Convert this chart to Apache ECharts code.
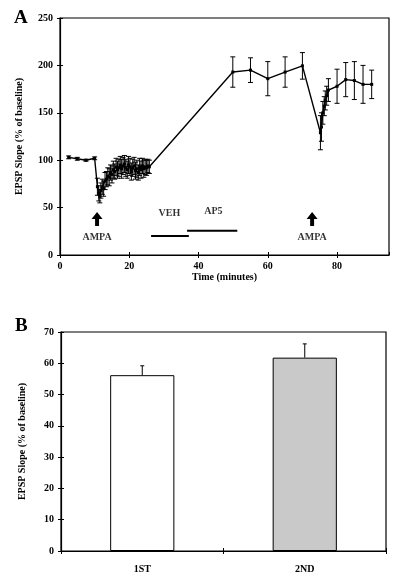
<!DOCTYPE html>
<html><head><meta charset="utf-8">
<script src="https://cdn.jsdelivr.net/npm/echarts@6/dist/echarts.min.js"></script>
<style>html,body{margin:0;padding:0;background:#fff}#c{width:400px;height:582px}</style>
</head><body><div id="c"></div>
<script>
// ---- Panel A data ----
const timeA = [2.5, 5, 7.5, 10,
  10.8, 11.2, 11.5, 11.8, 12.2, 12.6, 13.0, 13.4, 13.8, 14.2, 14.6, 15.0, 15.4, 15.8, 16.2, 16.6,
  17.0, 17.4, 17.8, 18.2, 18.6, 19.0, 19.4, 19.8, 20.2, 20.6, 21.0, 21.4, 21.8, 22.2, 22.6, 23.0,
  23.4, 23.8, 24.2, 24.6, 25.0, 25.4, 25.8,
  49.9, 55, 60, 65, 70,
  75.2, 75.5, 75.9, 76.3, 76.6, 77.0, 77.5, 80, 82.5, 85, 87.5, 90];
const valueA = [103, 101.5, 100, 102,
  72, 65, 62, 68, 72, 70, 78, 80, 83, 82, 87, 85, 90, 88, 93, 90,
  92, 95, 91, 94, 96, 92, 90, 95, 93, 88, 92, 94, 89, 91, 87, 93,
  90, 94, 91, 93, 92, 94, 93,
  193, 195, 186, 193, 199.5,
  129, 135, 150, 157, 163, 168, 174, 178, 185, 184, 180, 180];
const errA = [1.5, 1.5, 1, 1.5,
  9, 8, 7, 8, 8, 8, 9, 8, 9, 9, 8, 9, 9, 8, 9, 9,
  9, 9, 10, 9, 9, 9, 9, 9, 9, 9, 9, 9, 9, 9, 8, 9,
  9, 8, 9, 8, 8, 7, 7,
  16, 13, 18, 16, 14,
  18, 15, 12, 10, 10, 10, 12, 18, 18, 20, 20, 15];
const ampaTimes = [10.7, 72.8];
const arrowLevel = 38;
const vehPeriod = [26.3, 37.2];
const vehLevel = 20;
const ap5Period = [36.7, 51.2];
const ap5Level = 25.5;
const textLabelsA = [['AMPA', 10.7, 19], ['AMPA', 72.8, 18.5], ['VEH', 31.6, 44], ['AP5', 44.3, 45.5]];

// ---- Panel B data ----
const categoriesB = ['1ST', '2ND'];
const valuesB = [56.2, 61.8];
const errB = [3.0, 4.4];

const FONT = '"Liberation Serif", "DejaVu Serif", serif';
const txt = {color: '#000', fontFamily: FONT, fontWeight: 'bold', fontSize: 10};

function mkAxes(kind, gridIndex, base, insideOnly, labelMargin) {
  return Object.assign({}, base, {
    gridIndex: gridIndex,
    position: kind === 'x' ? 'bottom' : 'left',
    axisLine: {show: !insideOnly, onZero: false, lineStyle: {color: '#000', width: 1.2}},
    axisTick: {show: true, inside: insideOnly, length: 3, lineStyle: {color: '#000', width: 1}},
    axisLabel: insideOnly ? {show: false} : Object.assign({}, txt, {margin: labelMargin, showMaxLabel: (base.type === 'value' && kind === 'x') ? false : undefined}),
    splitLine: {show: false},
    name: insideOnly ? '' : base.name
  });
}

const xA = {type: 'value', min: 0, max: 95, interval: 20, name: 'Time (minutes)', nameLocation: 'middle', nameGap: 17, nameTextStyle: txt};
const yA = {type: 'value', min: 0, max: 250, interval: 50, name: 'EPSP Slope (% of baseline)', nameLocation: 'middle', nameGap: 36, nameTextStyle: txt};
const xB = {type: 'category', data: categoriesB, name: ''};
const yB = {type: 'value', min: 0, max: 70, interval: 10, name: 'EPSP Slope (% of baseline)', nameLocation: 'middle', nameGap: 34, nameTextStyle: txt};

function errItemFactory(capW, upOnly) {
  return function (params, api) {
    const x = api.value(0), lo = api.value(1), hi = api.value(2);
    const pLo = api.coord([x, lo]), pHi = api.coord([x, hi]);
    const st = {stroke: '#000', lineWidth: 1};
    const ch = [
      {type: 'line', shape: {x1: pLo[0], y1: pLo[1], x2: pHi[0], y2: pHi[1]}, style: st},
      {type: 'line', shape: {x1: pHi[0] - capW, y1: pHi[1], x2: pHi[0] + capW, y2: pHi[1]}, style: st}
    ];
    if (!upOnly) ch.push({type: 'line', shape: {x1: pLo[0] - capW, y1: pLo[1], x2: pLo[0] + capW, y2: pLo[1]}, style: st});
    return {type: 'group', children: ch};
  };
}

const chart = echarts.init(document.getElementById('c'), null, {renderer: 'canvas'});
chart.setOption({
  backgroundColor: '#fff',
  animation: false,
  textStyle: {fontFamily: FONT},
  title: [
    {text: 'A', left: 9, top: 4, textStyle: {fontFamily: FONT, fontWeight: 'bold', fontSize: 19, color: '#000'}},
    {text: 'B', left: 10, top: 312, textStyle: {fontFamily: FONT, fontWeight: 'bold', fontSize: 19, color: '#000'}}
  ],
  grid: [
    {left: 60, right: 11, top: 18, bottom: 327, show: true, borderColor: '#000', borderWidth: 1.2, backgroundColor: 'transparent'},
    {left: 61, right: 14, top: 332, bottom: 31, show: true, borderColor: '#000', borderWidth: 1.2, backgroundColor: 'transparent'}
  ],
  xAxis: [
    mkAxes('x', 0, xA, false, 6), mkAxes('x', 0, xA, true, 6),
    mkAxes('x', 1, xB, false, 13), mkAxes('x', 1, xB, true, 13)
  ],
  yAxis: [
    mkAxes('y', 0, yA, false, 7), mkAxes('y', 0, yA, true, 7),
    mkAxes('y', 1, yB, false, 7), mkAxes('y', 1, yB, true, 7)
  ],
  series: [
    {type: 'line', xAxisIndex: 0, yAxisIndex: 0, data: timeA.map((t, i) => [t, valueA[i]]),
      symbol: 'rect', symbolSize: 3, showSymbol: true, lineStyle: {color: '#000', width: 1.4}, itemStyle: {color: '#000'}, z: 3},
    {type: 'custom', xAxisIndex: 0, yAxisIndex: 0, renderItem: errItemFactory(2.5, false),
      data: timeA.map((t, i) => [t, valueA[i] - errA[i], valueA[i] + errA[i]]), encode: {x: 0, y: [1, 2]}, z: 2},
    {type: 'line', xAxisIndex: 0, yAxisIndex: 0, data: vehPeriod.map(t => [t, vehLevel]), symbol: 'none', lineStyle: {color: '#000', width: 2}},
    {type: 'line', xAxisIndex: 0, yAxisIndex: 0, data: ap5Period.map(t => [t, ap5Level]), symbol: 'none', lineStyle: {color: '#000', width: 2}},
    {type: 'scatter', xAxisIndex: 0, yAxisIndex: 0, data: ampaTimes.map(t => [t, arrowLevel]),
      symbol: 'path://M5,0 L10,7 L6.8,7 L6.8,14 L3.2,14 L3.2,7 L0,7 Z', symbolSize: [11, 14], itemStyle: {color: '#000', opacity: 1}},
    {type: 'scatter', xAxisIndex: 0, yAxisIndex: 0, data: textLabelsA.map(d => ({name: d[0], value: [d[1], d[2]]})),
      symbolSize: 1, itemStyle: {color: 'rgba(0,0,0,0)'},
      label: Object.assign({show: true, position: 'inside', formatter: '{b}'}, txt)},
    {type: 'bar', xAxisIndex: 2, yAxisIndex: 2, barWidth: '39.5%',
      data: valuesB.map((v, i) => ({value: v, itemStyle: {color: i === 0 ? '#ffffff' : '#c9c9c9'}})),
      itemStyle: {borderColor: '#000', borderWidth: 1}},
    {type: 'custom', xAxisIndex: 2, yAxisIndex: 2, renderItem: errItemFactory(2, true),
      data: valuesB.map((v, i) => [i, v, v + errB[i]]), encode: {x: 0, y: [1, 2]}, z: 5}
  ]
});
</script></body></html>
